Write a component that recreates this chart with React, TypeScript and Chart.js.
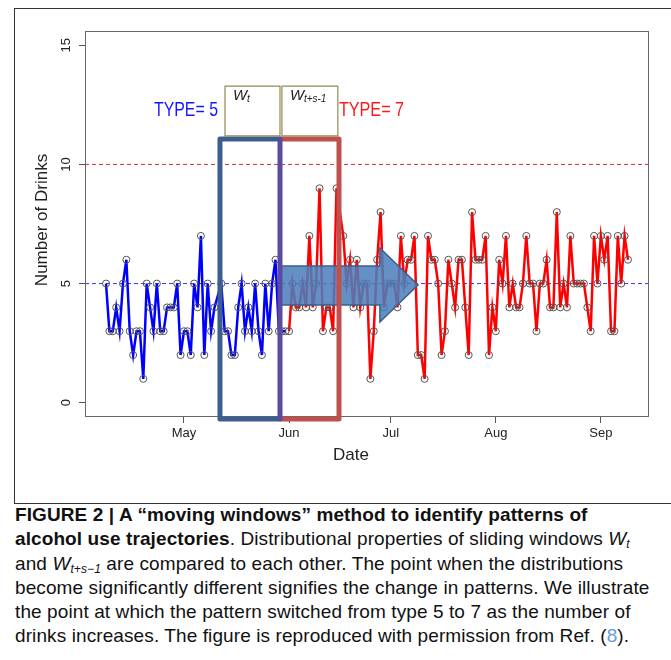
import React, { useEffect, useRef } from "react";
import { Chart, registerables } from "chart.js";

Chart.register(...registerables);

// ---- data (days counted from May 1) ----
const monthTicks = [0, 31, 61, 92, 123];
const monthLabels = ["May", "Jun", "Jul", "Aug", "Sep"];
const yTicks = [0, 5, 10, 15];

const blueStartDay = -23;
const blueValues: (number | null)[] = [
  5, 3, 3, 4, 3, 5, 6, 3, 2, 3, 3, 1, 5, 4, 3, 5, 3, 3, 4, 4, 4, 5, 2,
  3, 3, 2, 5, 4, 7, 2, 5, 3, 4, null, 5, 3, 3, 2, 2, 4, 5, 3, 4, 3, 5, 3, 2, 5, 3, 5, 6, 3, 3, 3,
];

const redStartDay = 31;
const redValues: (number | null)[] = [
  3, 5, 4, 4, 5, 4, 7, 4, 5, 9, 3, 4, 4, 3, 9, null, 7, 5, 6, 4, 6, 4, 5, 5, 1, 3, 6, 8, 4, 5,
  5, 5, 4, 7, 5, 6, 6, 7, 2, 2, 1, 7, 6, 6, 5, 2, 3, 6, 5, 4, 6, 6, 4, 2, 8, 6, 6, 6, 7, 2, 4,
  3, 6, 5, 7, 4, 5, 4, 4, 5, 7, 5, 5, 3, 5, 5, 6, 4, 4, 8, 4, 5, 4, 7, 5, 5, 5, 5, 4, 3, 7, 5,
  7, 6, 7, 3, 3, 7, 5, 7, 6,
];

const lowerThreshold = 5;
const upperThreshold = 10;

// window boundaries (days) and vertical extent (drinks)
const windowDays = [10.62, 28.33, 45.74];
const windowRange = [-0.68, 11.07];
const labelBoxDays = [12.1, 28.33, 28.9, 45.4];
const labelBoxRange = [11.2, 13.29];
const arrowDays = [28.33, 57.8, 69.05];
const arrowShaft = [4.1, 5.74];
const arrowHead = [3.39, 6.49];
const arrowTip = 4.94;

const xMin = -29.2;
const xMax = 137.2;
const yMin = -0.6;
const yMax = 15.6;

const SANS = '"Liberation Sans", Arial, sans-serif';

function toPoints(start: number, vals: (number | null)[]) {
  return vals.map((v, i) => ({ x: start + i, y: v }));
}

const overlayPlugin = {
  id: "overlay",
  afterDatasetsDraw(chart: any) {
    const { ctx, chartArea: ca } = chart;
    const xs = chart.scales.x;
    const ys = chart.scales.y;
    const px = (d: number) => xs.getPixelForValue(d);
    const py = (v: number) => ys.getPixelForValue(v);
    ctx.save();

    // plot box
    ctx.strokeStyle = "#666";
    ctx.lineWidth = 1;
    ctx.strokeRect(Math.round(ca.left) + 0.5, Math.round(ca.top) + 0.5, Math.round(ca.width) - 1, Math.round(ca.height) - 1);

    // arrow
    const a0 = px(arrowDays[0]);
    const a1 = px(arrowDays[1]);
    const a2 = px(arrowDays[2]);
    ctx.beginPath();
    ctx.moveTo(a0, py(arrowShaft[1]));
    ctx.lineTo(a1, py(arrowShaft[1]));
    ctx.lineTo(a1, py(arrowHead[1]));
    ctx.lineTo(a2, py(arrowTip));
    ctx.lineTo(a1, py(arrowHead[0]));
    ctx.lineTo(a1, py(arrowShaft[0]));
    ctx.lineTo(a0, py(arrowShaft[0]));
    ctx.closePath();
    ctx.fillStyle = "rgba(74,126,187,0.86)";
    ctx.fill();
    ctx.strokeStyle = "#3a5f8c";
    ctx.lineWidth = 1.5;
    ctx.stroke();

    // moving windows
    const w0 = px(windowDays[0]);
    const w1 = px(windowDays[1]);
    const w2 = px(windowDays[2]);
    const wt = py(windowRange[1]);
    const wb = py(windowRange[0]);
    ctx.lineWidth = 5;
    ctx.lineJoin = "round";
    ctx.lineCap = "round";
    ctx.strokeStyle = "#c0504d";
    ctx.beginPath();
    ctx.moveTo(w1, wt);
    ctx.lineTo(w2, wt);
    ctx.lineTo(w2, wb);
    ctx.lineTo(w1, wb);
    ctx.stroke();
    ctx.strokeStyle = "#3c5e8e";
    ctx.beginPath();
    ctx.moveTo(w1, wt);
    ctx.lineTo(w0, wt);
    ctx.lineTo(w0, wb);
    ctx.lineTo(w1, wb);
    ctx.stroke();
    ctx.strokeStyle = "#5b4a9e";
    ctx.lineCap = "butt";
    ctx.beginPath();
    ctx.moveTo(w1, wt);
    ctx.lineTo(w1, wb);
    ctx.stroke();

    // label boxes
    const bt = py(labelBoxRange[1]);
    const bb = py(labelBoxRange[0]);
    ctx.lineWidth = 1.2;
    ctx.strokeStyle = "#948a54";
    ctx.fillStyle = "#fff";
    const b1l = px(labelBoxDays[0]);
    const b1r = px(labelBoxDays[1]);
    const b2l = px(labelBoxDays[2]);
    const b2r = px(labelBoxDays[3]);
    ctx.fillRect(b1l, bt, b1r - b1l, bb - bt);
    ctx.strokeRect(b1l, bt, b1r - b1l, bb - bt);
    ctx.fillRect(b2l, bt, b2r - b2l, bb - bt);
    ctx.strokeRect(b2l, bt, b2r - b2l, bb - bt);

    ctx.fillStyle = "#222";
    ctx.textBaseline = "alphabetic";
    ctx.textAlign = "left";
    ctx.font = `italic 15px ${SANS}`;
    ctx.fillText("W", b1l + 8, bt + 14);
    ctx.fillText("W", b2l + 8, bt + 14);
    ctx.font = `italic 10px ${SANS}`;
    ctx.fillText("t", b1l + 22, bt + 16);
    ctx.fillText("t+s-1", b2l + 22, bt + 16);

    // TYPE labels
    const drawFit = (txt: string, x: number, base: number, w: number, color: string) => {
      ctx.font = `21px ${SANS}`;
      const m = ctx.measureText(txt).width;
      ctx.save();
      ctx.translate(x, base);
      ctx.scale(w / m, 1);
      ctx.fillStyle = color;
      ctx.fillText(txt, 0, 0);
      ctx.restore();
    };
    drawFit("TYPE= 5", px(windowDays[0]) - 66, bt + 30, 64, "#1515ff");
    drawFit("TYPE= 7", px(windowDays[2]) + 0, bt + 30, 65, "#ff1a1a");

    // y tick labels (rotated, R style)
    ctx.fillStyle = "#222";
    ctx.font = `13px ${SANS}`;
    ctx.textAlign = "center";
    ctx.textBaseline = "middle";
    for (const v of yTicks) {
      ctx.save();
      ctx.translate(ca.left - 19, py(v));
      ctx.rotate(-Math.PI / 2);
      ctx.fillText(String(v), 0, 0);
      ctx.restore();
    }
    // axis titles
    ctx.font = `17px ${SANS}`;
    ctx.save();
    ctx.translate(ca.left - 43, (ca.top + ca.bottom) / 2 - 4);
    ctx.rotate(-Math.PI / 2);
    ctx.fillText("Number of Drinks", 0, 0);
    ctx.restore();
    ctx.fillText("Date", (ca.left + ca.right) / 2 - 16, ca.bottom + 38);

    ctx.restore();
  },
};

export default function App() {
  const ref = useRef<HTMLCanvasElement>(null);
  useEffect(() => {
    const dashSpan = (v: number) => [
      { x: xMin, y: v },
      { x: xMax, y: v },
    ];
    const chart = new Chart(ref.current!, {
      type: "line",
      data: {
        datasets: [
          {
            data: toPoints(blueStartDay, blueValues),
            borderColor: "#0000ff",
            borderWidth: 2.5,
            pointRadius: 3.5,
            pointBorderColor: "#555",
            pointBorderWidth: 1,
            pointBackgroundColor: "rgba(0,0,0,0)",
            spanGaps: true,
          },
          {
            data: toPoints(redStartDay, redValues),
            borderColor: "#ff0000",
            borderWidth: 2.5,
            pointRadius: 3.5,
            pointBorderColor: "#555",
            pointBorderWidth: 1,
            pointBackgroundColor: "rgba(0,0,0,0)",
            spanGaps: true,
          },
          {
            data: dashSpan(lowerThreshold),
            borderColor: "#3a3acc",
            borderWidth: 1,
            borderDash: [4, 3],
            pointRadius: 0,
          },
          {
            data: dashSpan(upperThreshold),
            borderColor: "#d83030",
            borderWidth: 1,
            borderDash: [4, 3],
            pointRadius: 0,
          },
        ],
      },
      options: {
        animation: false,
        responsive: false,
        devicePixelRatio: 1,
        layout: { padding: { top: 31, right: 22, left: 0, bottom: 0 } },
        plugins: { legend: { display: false }, tooltip: { enabled: false } },
        scales: {
          x: {
            type: "linear",
            min: xMin,
            max: xMax,
            afterBuildTicks: (s: any) => {
              s.ticks = monthTicks.map((v) => ({ value: v }));
            },
            afterFit: (s: any) => {
              s.height = 83;
            },
            grid: { display: true, drawOnChartArea: false, drawTicks: true, tickLength: 6, color: "#555" },
            border: { display: false },
            ticks: {
              autoSkip: false,
              maxRotation: 0,
              padding: 3,
              color: "#222",
              font: { family: SANS, size: 13 },
              callback: (_v: any, i: number) => monthLabels[i],
            },
          },
          y: {
            type: "linear",
            min: yMin,
            max: yMax,
            afterBuildTicks: (s: any) => {
              s.ticks = yTicks.map((v) => ({ value: v }));
            },
            afterFit: (s: any) => {
              s.width = 85;
            },
            grid: { display: true, drawOnChartArea: false, drawTicks: true, tickLength: 6, color: "#555" },
            border: { display: false },
            ticks: { display: false },
          },
        },
      },
      plugins: [overlayPlugin],
    } as any);
    return () => chart.destroy();
  }, []);

  const sub: React.CSSProperties = { fontSize: 12, verticalAlign: -3, lineHeight: 0, fontStyle: "italic" };
  const line: React.CSSProperties = { whiteSpace: "nowrap", height: 24.3 };
  return (
    <div style={{ position: "absolute", left: 0, top: 0, width: 671, height: 660, background: "#fff", overflow: "hidden" }}>
      <div style={{ position: "absolute", left: 14, top: 8, width: 700, height: 494, border: "1px solid #333" }} />
      <canvas ref={ref} width={671} height={500} style={{ position: "absolute", left: 0, top: 0, width: 671, height: 500 }} />
      <div
        style={{
          position: "absolute",
          left: 15,
          top: 503,
          fontFamily: SANS,
          fontSize: 19,
          letterSpacing: "0.1px",
          lineHeight: "24.3px",
          color: "#111",
        }}
      >
        <div style={{ ...line, fontWeight: "bold" }}>FIGURE 2 | A “moving windows” method to identify patterns of</div>
        <div style={line}>
          <b>alcohol use trajectories</b>. Distributional properties of sliding windows <i>W</i>
          <span style={sub}>t</span>
        </div>
        <div style={line}>
          and <i>W</i>
          <span style={sub}>t+s−1</span> are compared to each other. The point when the distributions
        </div>
        <div style={line}>become significantly different signifies the change in patterns. We illustrate</div>
        <div style={line}>the point at which the pattern switched from type 5 to 7 as the number of</div>
        <div style={line}>
          drinks increases. The figure is reproduced with permission from Ref. (<span style={{ color: "#6a9bd6" }}>8</span>).
        </div>
      </div>
    </div>
  );
}
